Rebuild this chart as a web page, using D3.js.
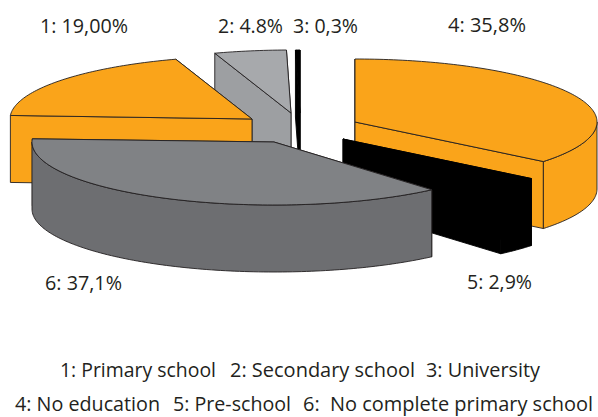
<!DOCTYPE html>
<html>
<head>
<meta charset="utf-8">
<script src="https://cdnjs.cloudflare.com/ajax/libs/d3/7.8.5/d3.min.js"></script>
<style>
    html, body { margin: 0; padding: 0; background: #fff; }
    svg { display: block; }
    text { font-family: "Open Sans", sans-serif; fill: #231f20; white-space: pre; }
</style>
</head>
<body>
<div id="chart"></div>
<script>
var categories = ["Primary school", "Secondary school", "University", "No education", "Pre-school", "No complete primary school"];
var values = [19.0, 4.8, 0.3, 35.8, 2.9, 37.1];
var valueLabels = ["19,00%", "4.8%", "0,3%", "35,8%", "2,9%", "37,1%"];

// layout, one entry per slice: [x, baseline, width] for the texts
var sliceCenters = [[252, 119], [291, 113], [300, 113], [355, 122], [343, 139], [274, 142]];
var labelSpots = [[40, 33, 88], [218, 33, 65], [293, 33, 65], [448, 32, 78], [467, 289, 65], [45, 290, 77]];
var legendSpots = [[60, 377, 156], [230, 377, 185], [426, 377, 114], [15, 411, 145], [173, 411, 118], [303, 411, 290]];
var topColors = ["#faa41a", "#a7a9ac", "#000000", "#faa41a", "#000000", "#808285"];
var wallColors = ["#faa41a", "#9d9fa2", "#000000", "#faa41a", "#000000", "#6d6e71"];
var strokeColors = ["#231f20", "#231f20", "#000000", "#231f20", "#000000", "#231f20"];
var drawOrder = [1, 2, 0, 3, 4, 5];

var width = 598;
var height = 417;
var radiusX = 242;
var radiusY = 63;
var depth = 67;
var fontSize = 20;

var xScale = d3.scaleLinear().domain([-1, 1]).range([-radiusX, radiusX]);
var yScale = d3.scaleLinear().domain([-1, 1]).range([-radiusY, radiusY]);

// slice 4 starts at 12 o'clock, so everything before it goes negative
var firstAngle = -2 * Math.PI * d3.sum(values.slice(0, 3)) / 100;
var pie = d3.pie()
    .sort(null)
    .startAngle(firstAngle)
    .endAngle(firstAngle + 2 * Math.PI * d3.sum(values) / 100);
var slices = pie(values);

var line = d3.line();

function rimPoint(center, t, drop) {
    return [center[0] + xScale(Math.sin(t)), center[1] + yScale(-Math.cos(t)) + drop];
}

function rim(center, a0, a1, drop) {
    var steps = Math.max(2, Math.ceil((a1 - a0) / 0.02));
    return d3.range(steps + 1).map(function(i) {
        return rimPoint(center, a0 + (a1 - a0) * i / steps, drop);
    });
}

var svg = d3.select("#chart").append("svg")
    .attr("width", width)
    .attr("height", height);

function addFace(g, points, fill, stroke) {
    g.append("path")
        .attr("d", line(points) + "Z")
        .attr("fill", fill)
        .attr("stroke", stroke)
        .attr("stroke-width", 0.9)
        .attr("stroke-linejoin", "round");
}

drawOrder.forEach(function(i) {
    var d = slices[i];
    var c = sliceCenters[i];
    var g = svg.append("g").attr("class", "slice");

    // radial walls, the one closer to the viewer goes last
    var sides = [d.startAngle, d.endAngle].sort(function(a, b) {
        return d3.ascending(-Math.cos(a), -Math.cos(b));
    });
    sides.forEach(function(t) {
        var p = rimPoint(c, t, 0);
        var q = rimPoint(c, t, depth);
        addFace(g, [c, p, q, [c[0], c[1] + depth]], wallColors[i], strokeColors[i]);
    });

    // outer wall only on the front half of the ellipse
    var from = Math.max(d.startAngle, Math.PI / 2);
    var to = Math.min(d.endAngle, 3 * Math.PI / 2);
    if (to > from) {
        addFace(g, rim(c, from, to, 0).concat(rim(c, from, to, depth).reverse()), wallColors[i], strokeColors[i]);
    }

    addFace(g, [c].concat(rim(c, d.startAngle, d.endAngle, 0)), topColors[i], strokeColors[i]);
});

function addText(spot, str) {
    svg.append("text")
        .attr("x", spot[0])
        .attr("y", spot[1])
        .attr("textLength", spot[2])
        .attr("lengthAdjust", "spacingAndGlyphs")
        .attr("font-size", fontSize)
        .text(str);
}

valueLabels.forEach(function(label, i) {
    addText(labelSpots[i], (i + 1) + ": " + label);
});

categories.forEach(function(name, i) {
    // the original has a double space after "6:"
    addText(legendSpots[i], (i + 1) + ":" + (i === 5 ? "  " : " ") + name);
});
</script>
</body>
</html>
